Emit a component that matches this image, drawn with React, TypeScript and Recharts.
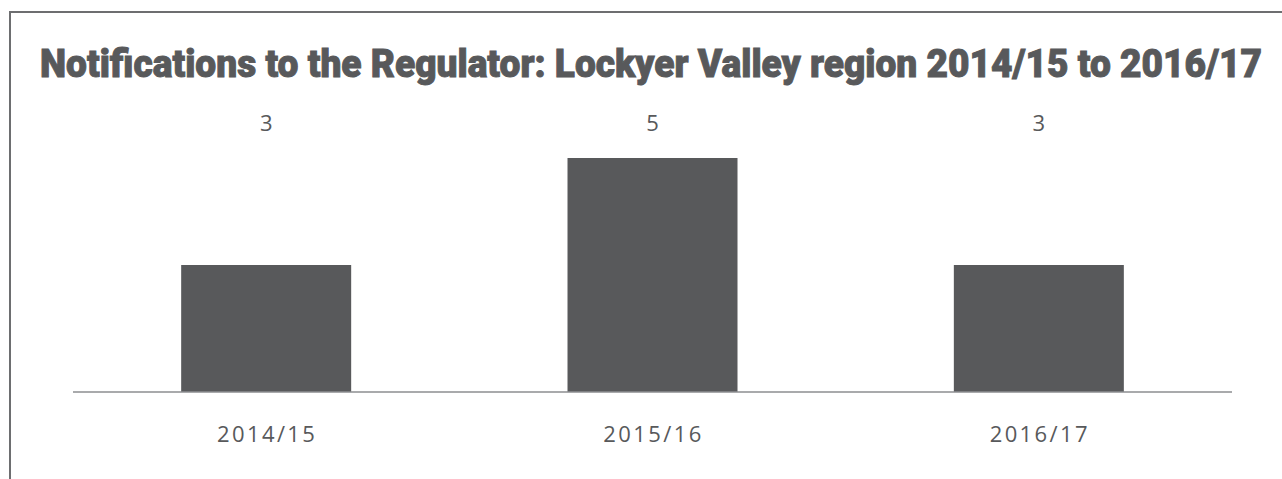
import React from 'react';
import { BarChart, Bar, XAxis, YAxis, LabelList } from 'recharts';

// Notifications per financial year
const years = ['2014/15', '2015/16', '2016/17'];
const notifications = [3, 5, 3];

const data = years.map((year, i) => ({ year, count: notifications[i] }));

const GREY = '#58595b';
const TITLE = 'Notifications to the Regulator: Lockyer Valley region 2014/15 to 2016/17';

const YearTick = ({ x, y, payload }: any) => (
  <text
    x={x + 1}
    y={y + 42}
    textAnchor="middle"
    fill={GREY}
    fontSize={22}
    fontFamily="'Open Sans', sans-serif"
    letterSpacing={2.4}
  >
    {payload.value}
  </text>
);

const TopValue = ({ x, width, value }: any) => (
  <text
    x={x + width / 2}
    y={131}
    textAnchor="middle"
    fill={GREY}
    fontSize={22}
    fontFamily="'Open Sans', sans-serif"
  >
    {value}
  </text>
);

export default function App() {
  return (
    <div style={{ position: 'absolute', left: 0, top: 0, width: 1282, height: 479, overflow: 'hidden', background: '#fff' }}>
      {/* frame: top and left edges only */}
      <div
        style={{
          position: 'absolute',
          left: 9,
          top: 11,
          width: 1300,
          height: 500,
          borderTop: '2px solid #6d6e70',
          borderLeft: '2px solid #6d6e70',
        }}
      />
      <svg width={1282} height={140} style={{ position: 'absolute', left: 0, top: 0 }}>
        <text
          transform="translate(40,77) scale(1,1.18)"
          x={0}
          y={0}
          fill={GREY}
          stroke={GREY}
          strokeWidth={0.8}
          fontSize={33}
          fontWeight={900}
          fontFamily="Roboto, 'Noto Sans', sans-serif"
          textLength={1222}
          lengthAdjust="spacingAndGlyphs"
        >
          {TITLE}
        </text>
      </svg>
      <div style={{ position: 'absolute', left: 0, top: 0 }}>
        <BarChart
          width={1282}
          height={479}
          data={data}
          margin={{ top: 158, right: 50, bottom: 47, left: 73 }}
          barCategoryGap="28%"
        >
          <XAxis
            dataKey="year"
            height={40}
            tickLine={false}
            axisLine={{ stroke: '#8d8e90', strokeWidth: 1.5 }}
            tick={<YearTick />}
            interval={0}
          />
          <YAxis hide width={0} domain={[0.63, 5]} allowDataOverflow />
          <Bar dataKey="count" fill={GREY} isAnimationActive={false}>
            <LabelList dataKey="count" content={<TopValue />} />
          </Bar>
        </BarChart>
      </div>
    </div>
  );
}
